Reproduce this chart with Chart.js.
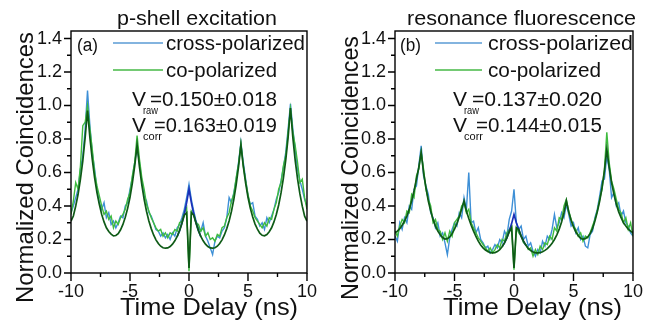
<!DOCTYPE html>
<html>
<head>
<meta charset="utf-8">
<script src="https://cdn.jsdelivr.net/npm/chart.js@4.4.1/dist/chart.umd.min.js"></script>
<style>
  html, body { margin: 0; padding: 0; background: #fff; }
  #wrap { position: relative; width: 651px; height: 325px; }
  .panel { position: absolute; top: 0; height: 325px; }
</style>
</head>
<body>
<div id="wrap">
  <div class="panel" style="left:0;width:325px"><canvas id="chartA" width="325" height="325"></canvas></div>
  <div class="panel" style="left:325px;width:326px"><canvas id="chartB" width="326" height="325"></canvas></div>
</div>
<script>
// ====== DATA ======
// time delay (ns), 0.2 ns bins
const delay = [
  -10.0, -9.8, -9.6, -9.4, -9.2, -9.0, -8.8, -8.6, -8.4, -8.2,
  -8.0, -7.8, -7.6, -7.4, -7.2, -7.0, -6.8, -6.6, -6.4, -6.2,
  -6.0, -5.8, -5.6, -5.4, -5.2, -5.0, -4.8, -4.6, -4.4, -4.2,
  -4.0, -3.8, -3.6, -3.4, -3.2, -3.0, -2.8, -2.6, -2.4, -2.2,
  -2.0, -1.8, -1.6, -1.4, -1.2, -1.0, -0.8, -0.6, -0.4, -0.2,
  0.0,
  0.2, 0.4, 0.6, 0.8, 1.0, 1.2, 1.4, 1.6, 1.8, 2.0,
  2.2, 2.4, 2.6, 2.8, 3.0, 3.2, 3.4, 3.6, 3.8, 4.0,
  4.2, 4.4, 4.6, 4.8, 5.0, 5.2, 5.4, 5.6, 5.8, 6.0,
  6.2, 6.4, 6.6, 6.8, 7.0, 7.2, 7.4, 7.6, 7.8, 8.0,
  8.2, 8.4, 8.6, 8.8, 9.0, 9.2, 9.4, 9.6, 9.8, 10.0
];
// short delay range where the cross-polarized fit differs from the co-polarized one
const delayCenter = [-1.0, -0.8, -0.6, -0.4, -0.2, 0.0, 0.2, 0.4, 0.6, 0.8, 1.0];

// (a) p-shell excitation
const crossA = [
  0.36, 0.40, 0.45, 0.50, 0.62, 0.70, 0.86, 1.09, 0.88, 0.72,
  0.62, 0.50, 0.42, 0.38, 0.42, 0.33, 0.36, 0.29, 0.31, 0.27,
  0.30, 0.34, 0.33, 0.40, 0.42, 0.50, 0.57, 0.66, 0.75, 0.66,
  0.55, 0.46, 0.43, 0.36, 0.34, 0.30, 0.26, 0.25, 0.22, 0.24,
  0.21, 0.23, 0.20, 0.24, 0.22, 0.27, 0.29, 0.33, 0.38, 0.45,
  0.53,
  0.44, 0.37, 0.31, 0.27, 0.25, 0.30, 0.22, 0.19, 0.15, 0.11,
  0.19, 0.22, 0.21, 0.25, 0.27, 0.33, 0.45, 0.42, 0.48, 0.56,
  0.66, 0.78, 0.66, 0.56, 0.46, 0.41, 0.42, 0.34, 0.32, 0.28,
  0.30, 0.26, 0.33, 0.30, 0.34, 0.38, 0.44, 0.48, 0.55, 0.63,
  0.72, 0.86, 1.01, 0.86, 0.74, 0.62, 0.55, 0.50, 0.44, 0.40
];
const coA = [
  0.35, 0.43, 0.54, 0.50, 0.64, 0.88, 0.90, 1.00, 0.86, 0.74,
  0.60, 0.52, 0.46, 0.40, 0.35, 0.37, 0.32, 0.34, 0.27, 0.31,
  0.29, 0.33, 0.35, 0.38, 0.44, 0.48, 0.58, 0.66, 0.82, 0.68,
  0.57, 0.50, 0.41, 0.37, 0.33, 0.30, 0.27, 0.25, 0.26, 0.22,
  0.24, 0.21, 0.24, 0.23, 0.26, 0.25, 0.30, 0.31, 0.36, 0.39,
  0.01,
  0.37, 0.35, 0.30, 0.29, 0.25, 0.27, 0.22, 0.24, 0.20, 0.21,
  0.19, 0.23, 0.22, 0.27, 0.28, 0.33, 0.36, 0.43, 0.47, 0.57,
  0.65, 0.77, 0.64, 0.55, 0.47, 0.40, 0.37, 0.33, 0.31, 0.29,
  0.27, 0.30, 0.28, 0.33, 0.32, 0.38, 0.42, 0.50, 0.54, 0.64,
  0.70, 0.84, 0.98, 0.84, 0.76, 0.66, 0.54, 0.56, 0.45, 0.38
];
const fitCoA = [
  0.31, 0.34, 0.40, 0.47, 0.56, 0.67, 0.81, 0.97, 0.81, 0.68,
  0.57, 0.48, 0.41, 0.35, 0.305, 0.27, 0.248, 0.232, 0.222, 0.224,
  0.235, 0.258, 0.29, 0.333, 0.386, 0.452, 0.536, 0.639, 0.764, 0.635,
  0.528, 0.44, 0.369, 0.311, 0.265, 0.227, 0.198, 0.176, 0.16, 0.151,
  0.148, 0.15, 0.158, 0.172, 0.192, 0.218, 0.253, 0.297, 0.345, 0.36,
  0.03,
  0.36, 0.345, 0.297, 0.253, 0.218, 0.192, 0.172, 0.158, 0.15, 0.148,
  0.151, 0.16, 0.176, 0.198, 0.227, 0.265, 0.311, 0.369, 0.44, 0.528,
  0.635, 0.764, 0.639, 0.536, 0.452, 0.386, 0.335, 0.292, 0.262, 0.238,
  0.225, 0.222, 0.23, 0.246, 0.27, 0.305, 0.349, 0.406, 0.478, 0.567,
  0.676, 0.81, 0.985, 0.81, 0.673, 0.562, 0.472, 0.399, 0.339, 0.31
];
const fitCrossA = [0.218, 0.253, 0.297, 0.352, 0.42, 0.50, 0.42, 0.352, 0.297, 0.253, 0.218];

// (b) resonance fluorescence
const crossB = [
  0.22, 0.19, 0.30, 0.26, 0.33, 0.30, 0.40, 0.38, 0.50, 0.52,
  0.64, 0.76, 0.58, 0.52, 0.47, 0.36, 0.33, 0.27, 0.30, 0.22,
  0.24, 0.18, 0.11, 0.21, 0.26, 0.30, 0.28, 0.36, 0.33, 0.45,
  0.38, 0.60, 0.30, 0.31, 0.24, 0.27, 0.20, 0.18, 0.15, 0.16,
  0.12, 0.14, 0.17, 0.15, 0.20, 0.18, 0.25, 0.22, 0.32, 0.37,
  0.50,
  0.30, 0.26, 0.28, 0.20, 0.22, 0.16, 0.18, 0.13, 0.10, 0.14,
  0.12, 0.19, 0.16, 0.22, 0.20, 0.26, 0.35, 0.27, 0.30, 0.36,
  0.33, 0.41, 0.35, 0.28, 0.30, 0.24, 0.27, 0.20, 0.22, 0.16,
  0.15, 0.23, 0.25, 0.33, 0.38, 0.46, 0.55, 0.56, 0.70, 0.62,
  0.45, 0.48, 0.40, 0.42, 0.34, 0.37, 0.30, 0.28, 0.24, 0.22
];
const coB = [
  0.25, 0.22, 0.28, 0.32, 0.30, 0.37, 0.36, 0.47, 0.45, 0.58,
  0.62, 0.72, 0.62, 0.50, 0.44, 0.40, 0.30, 0.32, 0.26, 0.25,
  0.20, 0.24, 0.19, 0.25, 0.22, 0.30, 0.32, 0.34, 0.40, 0.42,
  0.36, 0.38, 0.30, 0.27, 0.24, 0.21, 0.19, 0.17, 0.15, 0.13,
  0.15, 0.12, 0.14, 0.17, 0.15, 0.20, 0.19, 0.24, 0.26, 0.28,
  0.02,
  0.27, 0.24, 0.22, 0.18, 0.17, 0.14, 0.15, 0.10, 0.14, 0.11,
  0.16, 0.14, 0.18, 0.17, 0.22, 0.20, 0.27, 0.25, 0.33, 0.32,
  0.40, 0.44, 0.37, 0.32, 0.28, 0.26, 0.22, 0.24, 0.19, 0.22,
  0.21, 0.24, 0.28, 0.32, 0.37, 0.44, 0.50, 0.62, 0.84, 0.66,
  0.55, 0.50, 0.44, 0.38, 0.36, 0.30, 0.33, 0.26, 0.30, 0.22
];
const fitCoB = [
  0.24, 0.25, 0.265, 0.285, 0.31, 0.34, 0.38, 0.43, 0.49, 0.56,
  0.63, 0.72, 0.60, 0.51, 0.43, 0.37, 0.32, 0.28, 0.25, 0.228,
  0.212, 0.203, 0.205, 0.215, 0.235, 0.262, 0.295, 0.335, 0.38, 0.43,
  0.37, 0.325, 0.285, 0.25, 0.218, 0.19, 0.167, 0.15, 0.137, 0.128,
  0.122, 0.12, 0.122, 0.128, 0.14, 0.157, 0.18, 0.21, 0.245, 0.27,
  0.03,
  0.27, 0.26, 0.22, 0.19, 0.165, 0.147, 0.134, 0.125, 0.12, 0.12,
  0.122, 0.127, 0.135, 0.146, 0.16, 0.178, 0.20, 0.228, 0.262, 0.305,
  0.36, 0.43, 0.365, 0.315, 0.275, 0.245, 0.222, 0.208, 0.202, 0.205,
  0.215, 0.235, 0.265, 0.31, 0.365, 0.43, 0.51, 0.61, 0.74, 0.63,
  0.54, 0.47, 0.41, 0.365, 0.33, 0.30, 0.28, 0.262, 0.25, 0.24
];
const fitCrossB = [0.157, 0.18, 0.21, 0.25, 0.295, 0.35, 0.30, 0.26, 0.22, 0.19, 0.165];

// tick labels
const xTicks = [-10, -5, 0, 5, 10];
const xMinorTicks = [-7.5, -2.5, 2.5, 7.5];
const yTicks = [0, 0.2, 0.4, 0.6, 0.8, 1.0, 1.2, 1.4];
const yMinorTicks = [0.1, 0.3, 0.5, 0.7, 0.9, 1.1, 1.3];

const FONT = '"Liberation Sans", Arial, sans-serif';
const INK = '#111';

// draws text fitted to a given width
function fitText(ctx, txt, x, y, size, width) {
    ctx.font = size + 'px ' + FONT;
    const w = ctx.measureText(txt).width;
    ctx.save();
    ctx.translate(x, y);
    ctx.scale(width / w, 1);
    ctx.fillText(txt, 0, 0);
    ctx.restore();
}

// ====== FRAME, TICKS, TITLES, LEGEND ======
const panelDecor = {
    id: 'panelDecor',
    afterDraw(chart, args, o) {
        const { ctx, chartArea: a, scales: { x, y } } = chart;
        ctx.save();
        ctx.strokeStyle = '#000';
        ctx.lineWidth = 1.4;
        ctx.strokeRect(a.left, a.top, a.right - a.left, a.bottom - a.top);

        ctx.beginPath();
        yTicks.forEach(v => { const p = y.getPixelForValue(v); ctx.moveTo(a.left - 7, p); ctx.lineTo(a.left, p); });
        yMinorTicks.forEach(v => { const p = y.getPixelForValue(v); ctx.moveTo(a.left - 4, p); ctx.lineTo(a.left, p); });
        xTicks.forEach(v => { const p = x.getPixelForValue(v); ctx.moveTo(p, a.bottom); ctx.lineTo(p, a.bottom + 8); });
        xMinorTicks.forEach(v => { const p = x.getPixelForValue(v); ctx.moveTo(p, a.bottom); ctx.lineTo(p, a.bottom + 4); });
        ctx.stroke();

        ctx.fillStyle = INK;
        ctx.textAlign = 'left';
        ctx.textBaseline = 'alphabetic';

        // titles
        fitText(ctx, o.title, o.titleX[0], 25, 21, o.titleX[1] - o.titleX[0]);
        fitText(ctx, 'Time Delay (ns)', o.xTitleX[0], 315, 24, o.xTitleX[1] - o.xTitleX[0]);
        ctx.save();
        ctx.translate(33, o.yTitleY[0]);
        ctx.rotate(-Math.PI / 2);
        fitText(ctx, 'Normalized Coincidences', 0, 0, 24, o.yTitleY[0] - o.yTitleY[1]);
        ctx.restore();

        // panel tag and legend
        fitText(ctx, o.tag, o.tagX, 51, 18, 21);
        ctx.lineWidth = 1.5;
        ctx.strokeStyle = '#5a9bd5';
        ctx.beginPath(); ctx.moveTo(o.legLine[0], 43); ctx.lineTo(o.legLine[1], 43); ctx.stroke();
        ctx.strokeStyle = '#46b946';
        ctx.beginPath(); ctx.moveTo(o.legLine[0], 70); ctx.lineTo(o.legLine[1], 70); ctx.stroke();
        fitText(ctx, 'cross-polarized', o.legText, 50, 20.5, o.legW[0]);
        fitText(ctx, 'co-polarized', o.legText, 77, 20.5, o.legW[1]);

        // visibilities
        fitText(ctx, 'V', o.vX, 106, 20, 14);
        fitText(ctx, 'raw', o.vX + 11, 113.5, 10, 15);
        fitText(ctx, o.vRaw, o.eqX[0], 106, 20, o.eqX[1] - o.eqX[0]);
        fitText(ctx, 'V', o.vX, 132, 20, 14);
        fitText(ctx, 'corr', o.vX + 11, 140, 10, 19);
        fitText(ctx, o.vCorr, o.eqX[0] + 4, 132, 20, o.eqX[1] - o.eqX[0] - 4);
        ctx.restore();
    }
};

function toPoints(xs, ys) {
    return xs.map((t, i) => ({ x: t, y: ys[i] }));
}

function makePanel(canvasId, cross, co, fitCo, fitCross, padRight, axisWidth, decor) {
    const ctx = document.getElementById(canvasId).getContext('2d');
    return new Chart(ctx, {
        type: 'line',
        data: {
            datasets: [
                { label: 'co fit', data: toPoints(delay, fitCo), borderColor: '#0e5a16', borderWidth: 1.7, order: 0 },
                { label: 'cross fit', data: toPoints(delayCenter, fitCross), borderColor: '#1a2fb8', borderWidth: 1.7, order: 1 },
                { label: 'co-polarized', data: toPoints(delay, co), borderColor: '#3fbb3f', borderWidth: 1.4, order: 2 },
                { label: 'cross-polarized', data: toPoints(delay, cross), borderColor: '#3d8fd6', borderWidth: 1.4, order: 3 }
            ]
        },
        options: {
            responsive: false,
            devicePixelRatio: 1,
            animation: false,
            layout: { padding: { top: 31, right: padRight, left: 0, bottom: 0 } },
            elements: { point: { radius: 0 }, line: { tension: 0, fill: false } },
            plugins: { legend: { display: false }, tooltip: { enabled: false }, panelDecor: decor },
            scales: {
                x: {
                    type: 'linear', min: -10, max: 10,
                    afterBuildTicks: s => { s.ticks = xTicks.map(v => ({ value: v })); },
                    afterFit: s => { s.height = 52; },
                    grid: { display: false, drawTicks: false },
                    border: { display: false },
                    ticks: { color: INK, font: { family: FONT, size: 18 }, padding: 8, maxRotation: 0,
                             callback: v => String(v) }
                },
                y: {
                    min: 0, max: 1.445,
                    afterBuildTicks: s => { s.ticks = yTicks.map(v => ({ value: v })); },
                    afterFit: s => { s.width = axisWidth; },
                    grid: { display: false, drawTicks: false },
                    border: { display: false },
                    ticks: { color: INK, font: { family: FONT, size: 18 }, padding: 9,
                             callback: v => v.toFixed(1) }
                }
            }
        },
        plugins: [panelDecor]
    });
}

makePanel('chartA', crossA, coA, fitCoA, fitCrossA, 11, 71, {
    title: 'p-shell excitation', titleX: [117, 277],
    xTitleX: [120, 298], yTitleY: [303, 32],
    tag: '(a)', tagX: 77, legLine: [113, 163], legText: 166, legW: [139, 111],
    vX: 132, vRaw: '=0.150\u00b10.018', vCorr: '=0.163\u00b10.019', eqX: [150, 277]
});
makePanel('chartB', crossB, coB, fitCoB, fitCrossB, 15, 70, {
    title: 'resonance fluorescence', titleX: [82, 311],
    xTitleX: [118, 297], yTitleY: [300, 36],
    tag: '(b)', tagX: 75, legLine: [110, 157], legText: 163, legW: [145, 113],
    vX: 128, vRaw: '=0.137\u00b10.020', vCorr: '=0.144\u00b10.015', eqX: [147, 277]
});
</script>
</body>
</html>
